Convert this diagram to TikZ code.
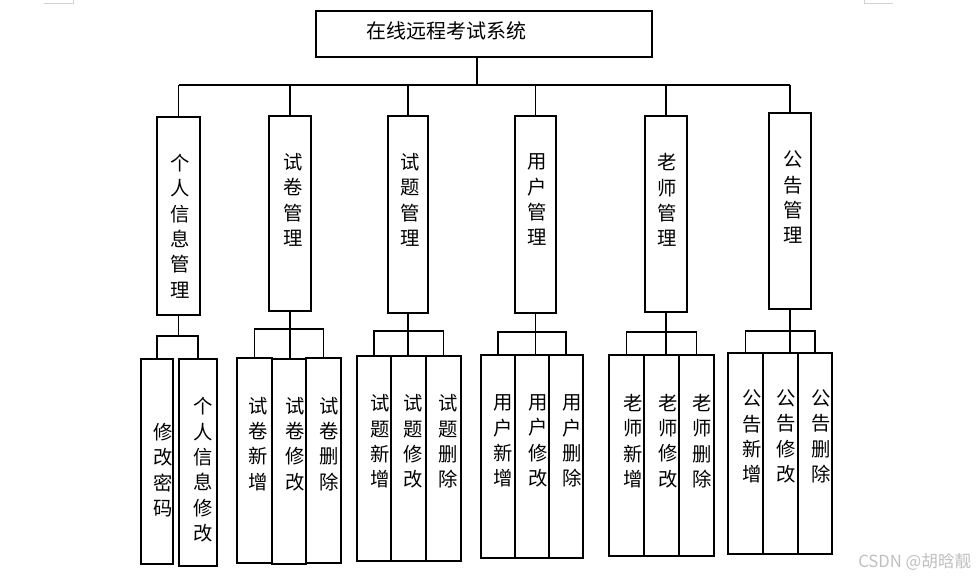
\documentclass[tikz,border=0pt]{standalone}
\usepackage{fontspec}
\setmainfont{Noto Sans CJK SC}
\begin{document}
\begin{tikzpicture}[x=0.75pt, y=-0.75pt, line width=0.9pt,
  box/.style={draw, inner sep=0pt},
  wh/.style 2 args={minimum width=#1*0.75pt, minimum height=#2*0.75pt},
  vtext/.style={align=center, inner sep=0pt, font=\fontsize{14.5pt}{19pt}\selectfont}]
\useasboundingbox (0,0) rectangle (976,579);
% page corner marks
\draw[gray!35, line width=0.6pt] (44,3) -- (73,3) -- (73,0);
\draw[gray!35, line width=0.6pt] (864,0) -- (864,3) -- (893,3);
% top
\node[box, wh={336}{46}] (root) at (484,34) {};
\node[anchor=west, inner sep=0pt, font=\fontsize{15pt}{18pt}\selectfont] (title) at ([shift={(50,-3)}]root.west) {在线远程考试系统};
% second level
\node[box, wh={43}{198}] (m1) at (178.5,216) {};
\node[vtext] (t1) at ([shift={(2,10)}]m1.center) {个\\人\\信\\息\\管\\理};
\node[box, wh={42}{195}] (m2) at (290,213.5) {};
\node[vtext] (t2) at ([shift={(3,-13.5)}]m2.center) {试\\卷\\管\\理};
\node[box, wh={40}{197}] (m3) at (408,214.5) {};
\node[vtext] (t3) at ([shift={(2,-14.5)}]m3.center) {试\\题\\管\\理};
\node[box, wh={41}{197}] (m4) at (535.5,214.5) {};
\node[vtext] (t4) at ([shift={(1.5,-14.5)}]m4.center) {用\\户\\管\\理};
\node[box, wh={42}{196}] (m5) at (666,214) {};
\node[vtext] (t5) at ([shift={(1,-14)}]m5.center) {老\\师\\管\\理};
\node[box, wh={42}{196}] (m6) at (790,211) {};
\node[vtext] (t6) at ([shift={(3,-13.5)}]m6.center) {公\\告\\管\\理};
% third level
\node[box, wh={32}{205}] (s11) at (157,461.5) {};
\node[vtext] (t11) at ([shift={(6,8.5)}]s11.center) {修\\改\\密\\码};
\node[box, wh={38}{207}] (s12) at (198,462.5) {};
\node[vtext] (t12) at ([shift={(5,7.5)}]s12.center) {个\\人\\信\\息\\修\\改};
\node[box, wh={35}{205}] (s21) at (254.5,460.5) {};
\node[vtext] (t21) at ([shift={(3.5,-16.5)}]s21.center) {试\\卷\\新\\增};
\node[box, wh={34}{205}] (s22) at (289,461.5) {};
\node[vtext] (t22) at ([shift={(6,-17.5)}]s22.center) {试\\卷\\修\\改};
\node[box, wh={35}{205}] (s23) at (323.5,460.5) {};
\node[vtext] (t23) at ([shift={(5.5,-16.5)}]s23.center) {试\\卷\\删\\除};
\node[box, wh={34}{205}] (s31) at (374,458.5) {};
\node[vtext] (t31) at ([shift={(6,-17)}]s31.center) {试\\题\\新\\增};
\node[box, wh={35}{205}] (s32) at (408.5,458.5) {};
\node[vtext] (t32) at ([shift={(4.5,-17)}]s32.center) {试\\题\\修\\改};
\node[box, wh={35}{205}] (s33) at (443.5,458.5) {};
\node[vtext] (t33) at ([shift={(4.5,-17)}]s33.center) {试\\题\\删\\除};
\node[box, wh={34}{203}] (s41) at (498,456.5) {};
\node[vtext] (t41) at ([shift={(5,-15.5)}]s41.center) {用\\户\\新\\增};
\node[box, wh={34}{203}] (s42) at (532,456.5) {};
\node[vtext] (t42) at ([shift={(6,-15.5)}]s42.center) {用\\户\\修\\改};
\node[box, wh={34}{203}] (s43) at (566,456.5) {};
\node[vtext] (t43) at ([shift={(6,-15.5)}]s43.center) {用\\户\\删\\除};
\node[box, wh={35}{201}] (s51) at (626.5,455.5) {};
\node[vtext] (t51) at ([shift={(6.5,-14.5)}]s51.center) {老\\师\\新\\增};
\node[box, wh={35}{201}] (s52) at (661.5,455.5) {};
\node[vtext] (t52) at ([shift={(6.5,-14.5)}]s52.center) {老\\师\\修\\改};
\node[box, wh={35}{201}] (s53) at (696.5,455.5) {};
\node[vtext] (t53) at ([shift={(5.5,-14.5)}]s53.center) {老\\师\\删\\除};
\node[box, wh={35}{201}] (s61) at (745.5,453.5) {};
\node[vtext] (t61) at ([shift={(6.5,-17)}]s61.center) {公\\告\\新\\增};
\node[box, wh={35}{201}] (s62) at (780.5,453.5) {};
\node[vtext] (t62) at ([shift={(5.5,-17)}]s62.center) {公\\告\\修\\改};
\node[box, wh={34}{201}] (s63) at (815,453.5) {};
\node[vtext] (t63) at ([shift={(6,-17)}]s63.center) {公\\告\\删\\除};
% connectors
\coordinate (bus) at (477,85);
\draw (bus |- root.south) -- (bus);
\draw (m1.north |- bus) -- (m6.north |- bus);
\foreach \i in {1,...,6}
  \draw (m\i.north) -- (m\i.north |- bus);
\coordinate (h1) at (0,336);
\coordinate (h2) at (0,329);
\coordinate (h3) at (0,331);
\coordinate (h4) at (0,332);
\coordinate (h5) at (0,332);
\coordinate (h6) at (0,331);
\draw (m1.south) -- (m1.south |- h1);
\draw (s11.north) -- (s11.north |- h1) -- (s12.north |- h1) -- (s12.north);
\foreach \i in {2,...,6} {
  \draw (m\i.south) -- (m\i.south |- s\i2.north);
  \draw (s\i1.north) -- (s\i1.north |- h\i) -- (s\i3.north |- h\i) -- (s\i3.north);
}
\node[anchor=east, inner sep=0pt, text=gray!50, font=\fontsize{12.5pt}{14pt}\selectfont] (wm) at (972,562) {CSDN @胡晗靓};
\end{tikzpicture}
\end{document}
